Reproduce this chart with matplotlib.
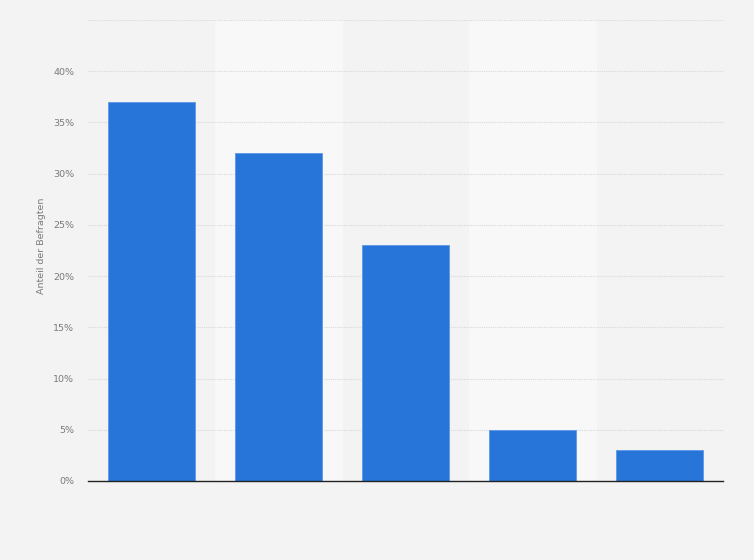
import numpy as np
import matplotlib.pyplot as plt
from matplotlib.ticker import FuncFormatter

# values (share of respondents, %)
categories = ['1', '2', '3', '4', '5']
shares = [37, 32, 23, 5, 3]
yticks = [0, 5, 10, 15, 20, 25, 30, 35, 40, 45]

fig = plt.figure(figsize=(7.54, 5.6), dpi=100)
fig.patch.set_facecolor('#f3f3f3')
ax = fig.add_axes([0.1167, 0.1411, 0.8423, 0.8232])
ax.set_facecolor('#f3f3f3')

x = np.arange(len(categories))
# lighter stripes behind every second column
for i in x:
    if i % 2 == 1:
        ax.axvspan(i - 0.5, i + 0.5, color='#f8f8f8', zorder=0)

ax.bar(x, shares, width=0.69, color='#2775d9', edgecolor='#5b98e6', linewidth=0.6, zorder=3)

ax.set_xlim(-0.5, len(categories) - 0.5)
ax.set_ylim(0, 45)
ax.set_yticks(yticks)
ax.yaxis.set_major_formatter(FuncFormatter(lambda v, p: '' if v == 45 else f'{v:.0f}%'))
ax.set_xticks([])
ax.tick_params(axis='y', length=0, labelsize=6.8, labelcolor='#7a7a7a', pad=10)
ax.grid(axis='y', color='#d9d9d9', linestyle=(0, (1, 1)), linewidth=0.8, zorder=1)

for s in ['top', 'right', 'left']:
    ax.spines[s].set_visible(False)
ax.spines['bottom'].set_color('#222222')
ax.spines['bottom'].set_linewidth(1.0)
ax.spines['bottom'].set_zorder(4)

ax.set_ylabel('Anteil der Befragten', fontsize=6.8, color='#7a7a7a')
ax.yaxis.set_label_coords(-0.066, 0.51)

fig.savefig('out.png', dpi=100, facecolor=fig.get_facecolor())
